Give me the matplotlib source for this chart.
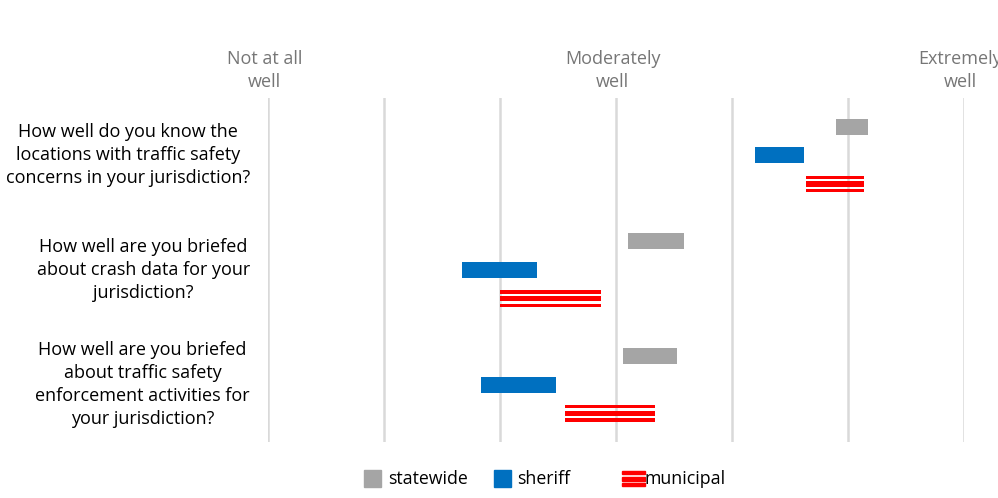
import matplotlib
matplotlib.use("Agg")
import matplotlib.pyplot as plt
from matplotlib.patches import Rectangle

questions = [
    "How well do you know the\nlocations with traffic safety\nconcerns in your jurisdiction?",
    "How well are you briefed\nabout crash data for your\njurisdiction?",
    "How well are you briefed\nabout traffic safety\nenforcement activities for\nyour jurisdiction?",
]
series = ["statewide", "sheriff", "municipal"]
statewide_lo = [5.90, 4.10, 4.06]
statewide_hi = [6.17, 4.59, 4.53]
sheriff_lo = [5.20, 2.67, 2.84]
sheriff_hi = [5.62, 3.32, 3.48]
municipal_lo = [5.64, 3.00, 3.56]
municipal_hi = [6.14, 3.87, 4.34]
scale_ticks = [1, 4, 7]
scale_labels = ["Not at all\nwell", "Moderately\nwell", "Extremely\nwell"]

GRAY = "#a5a5a5"
BLUE = "#0070c0"
RED = "#ff0000"
FONT = ["Open Sans", "DejaVu Sans"]
plt.rcParams["font.family"] = FONT

W, H = 998, 498
fig = plt.figure(figsize=(W / 100, H / 100), dpi=100)
ax = fig.add_axes([268 / W, 1 - 442 / H, 696 / W, 344 / H])
ax.set_xlim(1, 7)
ax.set_ylim(2.5, -0.5)
for s in ax.spines.values():
    s.set_visible(False)
ax.set_xticks(range(1, 8))
ax.tick_params(length=0, labelbottom=False)
ax.xaxis.grid(True, color="#d9d9d9", linewidth=1.8)
ax.set_axisbelow(True)
ax.set_yticks([])

px = 1 / 115.0  # data units per pixel vertically
h = 16 * px
off = 0.25
ys = list(range(len(questions)))
ax.barh([y - off for y in ys], [b - a for a, b in zip(statewide_lo, statewide_hi)],
        left=statewide_lo, height=h, color=GRAY)
ax.barh(ys, [b - a for a, b in zip(sheriff_lo, sheriff_hi)],
        left=sheriff_lo, height=h, color=BLUE)
# municipal: striped bar (3 red stripes separated by white)
mw = [b - a for a, b in zip(municipal_lo, municipal_hi)]
for dy, sh in [(-6.7, 3.3), (0.0, 5.5), (6.7, 3.3)]:
    ax.barh([y + off + dy * px for y in ys], mw, left=municipal_lo,
            height=sh * px, color=RED)

for y, q in zip(ys, questions):
    ax.text(-0.026, y, q, transform=ax.get_yaxis_transform(), ha="right", va="center",
            multialignment="center", fontsize=13, color="#000000", linespacing=1.35)

for x, lab in zip(scale_ticks, scale_labels):
    ax.text(x - 0.03, -0.5 - 0.06, lab, ha="center", va="bottom", fontsize=13,
            color="#767676", linespacing=1.35, clip_on=False)

# legend
ly = 1 - 479 / H
def fx(p):
    return p / W
sq = 17
fig.add_artist(Rectangle((fx(364), 1 - 487 / H), sq / W, sq / H, color=GRAY, transform=fig.transFigure))
fig.text(fx(388), ly, "statewide", fontsize=12.8, va="center", ha="left", color="#000000")
fig.add_artist(Rectangle((fx(494), 1 - 487 / H), sq / W, sq / H, color=BLUE, transform=fig.transFigure))
fig.text(fx(517), ly, "sheriff", fontsize=12.8, va="center", ha="left", color="#000000")
for top, hh in [(471, 3), (476.5, 4.5), (483, 3)]:
    fig.add_artist(Rectangle((fx(622), 1 - (top + hh) / H), 23 / W, hh / H, color=RED,
                             transform=fig.transFigure))
fig.text(fx(645), ly, "municipal", fontsize=12.8, va="center", ha="left", color="#000000")

fig.savefig("out.png", dpi=100)
